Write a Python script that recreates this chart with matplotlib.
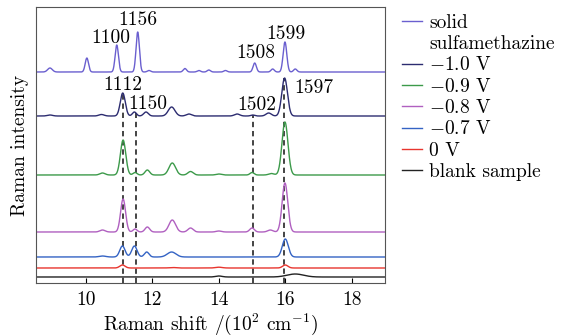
import numpy as np
import matplotlib
matplotlib.use("Agg")
import matplotlib.pyplot as plt
from matplotlib.lines import Line2D

plt.rcParams['font.family'] = ['cmr10', 'DejaVu Serif']
plt.rcParams['mathtext.fontset'] = 'cm'
plt.rcParams['axes.unicode_minus'] = False
plt.rcParams['font.size'] = 14

# Raman shift axis in units of 10^2 cm^-1
shift = np.linspace(8.5, 19.0, 2100)

labels = ['solid', r'$-$1.0 V', r'$-$0.9 V', r'$-$0.8 V',
          r'$-$0.7 V', '0 V', 'blank sample']
colors = ['#6a5fcf', '#2c2c70', '#3c9a4a', '#b060c0', '#3463c4', '#e8352e', '#222222']
offsets = [211, 167, 108, 51, 26, 15, 6]

# peak lists per spectrum: (centre, height, width)
solid_peaks = [(8.92, 4, 0.07), (10.03, 14, 0.05), (10.93, 27, 0.05), (11.56, 40, 0.05),
               (11.9, 1.5, 0.05), (12.98, 3.5, 0.05), (13.4, 1.5, 0.05), (13.7, 2, 0.05),
               (14.2, 1.5, 0.05), (15.08, 9, 0.05), (15.62, 3, 0.05), (15.99, 30, 0.055),
               (16.3, 3, 0.05)]
m10_peaks = [(8.92, 1, 0.08), (10.47, 1.5, 0.08), (11.11, 23, 0.075), (11.46, 4, 0.06),
             (11.81, 4, 0.07), (12.58, 9, 0.1), (13.1, 2, 0.08), (14.55, 2, 0.08),
             (15.02, 1, 0.06), (15.5, 3, 0.08), (15.98, 38, 0.085)]
m09_peaks = [(10.5, 2, 0.08), (11.12, 35, 0.08), (11.48, 2.5, 0.06), (11.85, 5, 0.07),
             (12.6, 12, 0.1), (13.15, 3.5, 0.08), (14.0, 1, 0.08), (15.0, 2.5, 0.06),
             (15.58, 1.5, 0.08), (15.99, 53, 0.09)]
m08_peaks = [(10.5, 2, 0.08), (11.12, 33, 0.075), (11.48, 3, 0.06), (11.85, 5, 0.07),
             (12.6, 12, 0.1), (13.15, 4, 0.08), (14.0, 1, 0.08), (15.0, 4, 0.07),
             (15.55, 2, 0.08), (15.99, 49, 0.085)]
m07_peaks = [(10.5, 1, 0.1), (11.1, 11, 0.08), (11.46, 11, 0.08), (11.83, 5, 0.07),
             (12.58, 5, 0.13), (16.0, 18, 0.09)]
zero_peaks = [(11.1, 3, 0.08), (12.6, 0.5, 0.1), (14.0, 0.8, 0.1), (16.0, 3, 0.08)]
blank_peaks = [(14.0, 1, 0.1), (16.3, 3, 0.25)]
all_peaks = [solid_peaks, m10_peaks, m09_peaks, m08_peaks, m07_peaks, zero_peaks, blank_peaks]

# band positions marked with dashed lines
band_pos = [11.12, 11.50, 15.02, 15.97]

peak_text = ['1156', '1100', '1508', '1599', '1112', '1150', '1502', '1597']
text_x = [11.56, 10.76, 15.12, 16.02, 11.12, 11.85, 15.15, 16.85]
text_y = [263, 245, 230, 249, 198, 179, 178, 195]


def spectrum(peaks, base):
    y = np.full_like(shift, base, dtype=float)
    for c, h, w in peaks:
        y += h * np.exp(-0.5 * ((shift - c) / w) ** 2)
    return y


fig = plt.figure(figsize=(5.84, 3.36), dpi=100)
ax = fig.add_axes([36 / 584, 53 / 336, 349 / 584, 276 / 336])

curves = []
handles = []
for peaks, base, c in zip(all_peaks, offsets, colors):
    y = spectrum(peaks, base)
    curves.append(y)
    line, = ax.plot(shift, y, color=c, lw=1.0)
    handles.append(line)

for xp in band_pos:
    top = np.interp(xp, shift, curves[1])
    ax.plot([xp, xp], [0, top], color='#111111', lw=1.1, ls=(0, (3.5, 2.5)), zorder=0.5)

for t, xt, yt in zip(peak_text, text_x, text_y):
    ax.text(xt, yt, t, ha='center', va='center', fontsize=14)

ax.set_xlim(8.5, 19)
ax.set_ylim(0, 276)
ax.set_xticks([10, 12, 14, 16, 18])
ax.set_yticks([])
ax.tick_params(axis='x', direction='in', length=3.5, labelsize=14, pad=6)
for sp in ax.spines.values():
    sp.set_color('#555555')
ax.set_xlabel(r'Raman shift /(10$^2$ cm$^{-1}$)', fontsize=14, labelpad=2)
ax.set_ylabel('Raman intensity', fontsize=14, labelpad=5)

# second line of the first entry gets an empty handle
blank_handle = Line2D([], [], color='none')
leg_handles = [handles[0], blank_handle] + handles[1:]
leg_labels = [labels[0], 'sulfamethazine'] + labels[1:]
fig.legend(leg_handles, leg_labels, loc='upper left',
           bbox_to_anchor=(402 / 584, 1 - 14 / 336), frameon=False,
           handlelength=1.05, handletextpad=0.35, labelspacing=0.17, fontsize=14,
           borderaxespad=0, borderpad=0)

fig.savefig('out.png', dpi=100)
